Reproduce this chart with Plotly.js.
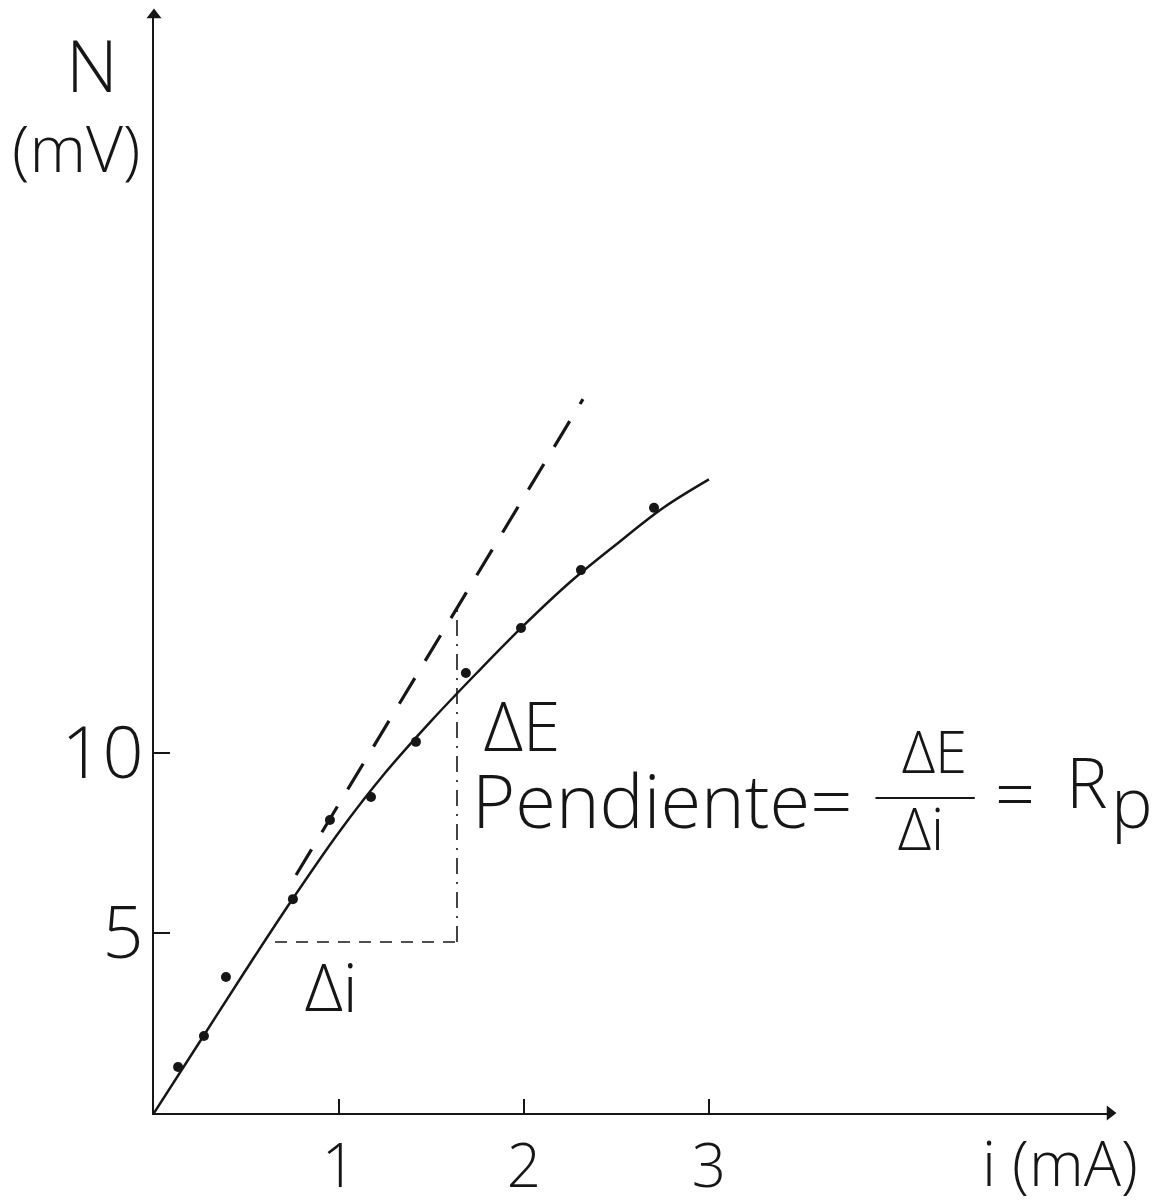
<!DOCTYPE html>
<html>
<head>
<meta charset="utf-8">
<script src="https://cdn.plot.ly/plotly-3.0.1.min.js"></script>
<style>
  html, body { margin: 0; padding: 0; background: #ffffff; }
  #chart { width: 1169px; height: 1204px; }
</style>
</head>
<body>
<div id="chart"></div>
<script>
// Measured points: current i (mA) and potential (mV)
const pointI = [0.13, 0.27, 0.389, 0.751, 0.951, 1.173, 1.416, 1.686, 1.984, 2.308, 2.703];
const pointE = [1.28, 2.14, 3.78, 5.94, 8.14, 8.78, 10.31, 12.22, 13.47, 15.08, 16.81];

// Smooth hand-drawn curve through the measurements
const curveI = [0, 0.25, 0.5, 0.75, 1.0, 1.25, 1.5, 1.75, 2.0, 2.25, 2.5, 2.75, 3.0];
const curveE = [0, 2.0, 4.0, 5.95, 7.8, 9.45, 10.9, 12.25, 13.55, 14.75, 15.8, 16.8, 17.6];

// Tangent to the initial linear part of the curve
const tangentI = [0.768, 2.319];
const tangentE = [6.61, 19.83];

// Construction of the slope triangle: Δi (horizontal) and ΔE (vertical)
const deltaI_I = [0.654, 1.638];
const deltaI_E = [4.75, 4.75];
const deltaE_I = [1.638, 1.638];
const deltaE_E = [4.75, 14.06];

// Axis extents (arrow tips) and ticks
const xMax = 5.168;
const yMax = 30.5;
const xTickVals = [1, 2, 3];
const xTickText = ['1', '2', '3'];
const yTickVals = [5, 10];
const yTickText = ['5', '10'];

const INK = '#161616';
const FONT = '"Open Sans", "Liberation Sans", sans-serif';
const LIGHT = 300;

const traces = [
  {
    x: curveI, y: curveE, type: 'scatter', mode: 'lines',
    line: { color: INK, width: 2.5, shape: 'spline', smoothing: 1.0 },
    hoverinfo: 'skip'
  },
  {
    x: tangentI, y: tangentE, type: 'scatter', mode: 'lines',
    line: { color: INK, width: 3.2, dash: '30px,20px' },
    hoverinfo: 'skip'
  },
  {
    x: deltaI_I, y: deltaI_E, type: 'scatter', mode: 'lines',
    line: { color: INK, width: 1.5, dash: '12px,9px' },
    hoverinfo: 'skip'
  },
  {
    x: deltaE_I, y: deltaE_E, type: 'scatter', mode: 'lines',
    line: { color: INK, width: 1.6, dash: '16px,8px,2px,8px' },
    hoverinfo: 'skip'
  },
  {
    x: pointI, y: pointE, type: 'scatter', mode: 'markers',
    marker: { color: INK, size: 10 },
    hoverinfo: 'skip'
  },
  // arrowheads at the ends of both axes
  {
    x: [xMax, 0], y: [0, yMax], type: 'scatter', mode: 'markers',
    marker: { color: INK, size: 13, symbol: ['triangle-right', 'triangle-up'] },
    cliponaxis: false, hoverinfo: 'skip'
  }
];

function label(text, x, y, size, opts) {
  return Object.assign({
    text: text, x: x, y: y, xref: 'x', yref: 'y',
    showarrow: false, xanchor: 'center', yanchor: 'middle',
    font: { family: FONT, size: size, color: INK, weight: LIGHT }
  }, opts || {});
}

const PAPER = { xref: 'paper', yref: 'paper' };

const annotations = [
  // axis names
  label('N', -0.0649, 0.955, 72, PAPER),
  label('(mV)', -0.0816, 0.879, 64, PAPER),
  label('i (mA)', 0.948, -0.0445, 62, PAPER),
  // slope triangle
  label('Δi', 0.957, 3.53, 66),
  label('ΔE', 1.99, 10.8, 68),
  // Pendiente = ΔE/Δi = Rp
  label('Pendiente=', 1.708, 8.72, 74, { xanchor: 'left' }),
  label('ΔE', 4.22, 10.06, 58),
  label('Δi', 4.146, 7.94, 58),
  label('=', 4.654, 8.92, 70),
  label('R', 0.976, 0.3024, 70, PAPER),
  label('p', 1.023, 0.2837, 70, PAPER)
];

const layout = {
  width: 1169, height: 1204, autosize: false,
  margin: { l: 154, r: 59, t: 15, b: 91, pad: 0 },
  paper_bgcolor: '#ffffff', plot_bgcolor: '#ffffff',
  showlegend: false,
  xaxis: {
    range: [0, xMax], showgrid: false, zeroline: false,
    showline: true, linecolor: INK, linewidth: 2,
    ticks: 'inside', ticklen: 14, tickwidth: 2, tickcolor: INK,
    tickvals: xTickVals, ticktext: xTickText,
    tickfont: { family: FONT, size: 60, color: INK, weight: LIGHT },
    ticklabelstandoff: 0
  },
  yaxis: {
    range: [0, yMax], showgrid: false, zeroline: false,
    showline: true, linecolor: INK, linewidth: 2,
    ticks: 'inside', ticklen: 16, tickwidth: 2, tickcolor: INK,
    tickvals: yTickVals, ticktext: yTickText,
    tickfont: { family: FONT, size: 72, color: INK, weight: LIGHT },
    ticklabelstandoff: -6
  },
  shapes: [
    // fraction bar of ΔE/Δi
    { type: 'line', xref: 'x', yref: 'y', x0: 3.9, x1: 4.437, y0: 8.75, y1: 8.75,
      line: { color: INK, width: 2 } }
  ],
  annotations: annotations
};

Plotly.newPlot('chart', traces, layout, { staticPlot: true, displayModeBar: false });
</script>
</body>
</html>
